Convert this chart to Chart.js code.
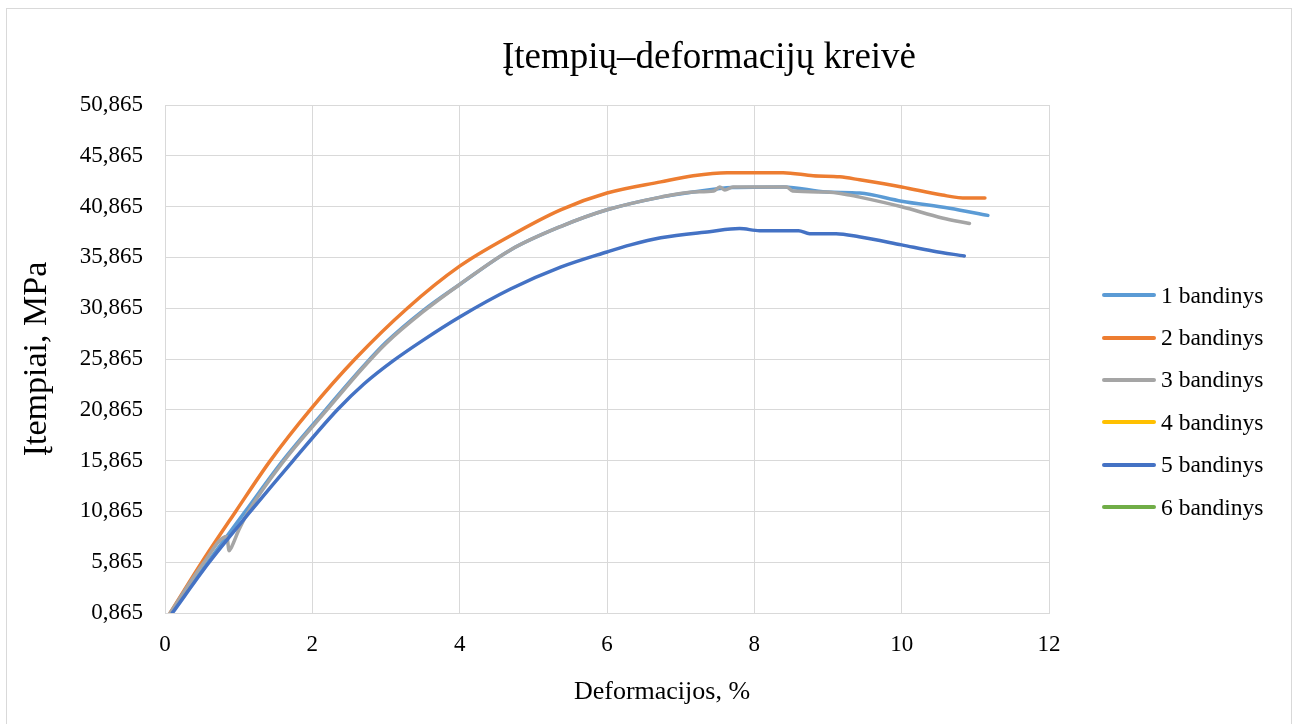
<!DOCTYPE html>
<html>
<head>
<meta charset="utf-8">
<script src="https://cdn.jsdelivr.net/npm/chart.js@4.4.1/dist/chart.umd.min.js"></script>
<style>
  body { margin: 0; background: #fff; font-family: 'Liberation Serif', 'Times New Roman', serif; color: #000; }
  #wrap { position: relative; width: 1299px; height: 724px; overflow: hidden; }
  #frame { position: absolute; left: 6px; top: 8px; width: 1284px; height: 740px; border: 1px solid #d9d9d9; }
  #chart { position: absolute; left: 0; top: 0; }
  #title { position: absolute; left: 409px; width: 600px; top: 34px; text-align: center; font-size: 37px; line-height: 44px; }
  #xtitle { position: absolute; left: 462px; width: 400px; top: 676px; text-align: center; font-size: 26px; line-height: 30px; }
  #legend { position: absolute; left: 1102px; top: 274px; margin: 0; padding: 0; list-style: none; }
  #legend li { height: 42.4px; display: flex; align-items: center; font-size: 23.5px; white-space: nowrap; }
  #legend .swatch { width: 54px; height: 4px; border-radius: 2px; margin-right: 5px; }
</style>
</head>
<body>
<div id="wrap">
  <div id="frame"></div>
  <canvas id="chart" width="1299" height="724"></canvas>
  <div id="title">Įtempių–deformacijų kreivė</div>
  <div id="xtitle">Deformacijos, %</div>
  <ul id="legend"></ul>
</div>
<script>
const seriesNames = ['1 bandinys', '2 bandinys', '3 bandinys', '4 bandinys', '5 bandinys', '6 bandinys'];
const seriesColors = ['#5b9bd5', '#ed7d31', '#a5a5a5', '#ffc000', '#4472c4', '#70ad47'];

const yTicks = [0.865, 5.865, 10.865, 15.865, 20.865, 25.865, 30.865, 35.865, 40.865, 45.865, 50.865];

// deformacija (%) / itempis (MPa) for each specimen
const strain1 = [0.08, 0.58, 1.09, 1.6, 2.18, 2.7, 3.0, 3.5, 4.0, 4.69, 5.37, 6.0, 6.73, 7.17, 7.7, 8.4, 8.98, 9.43, 10.0, 10.65, 11.17];
const stress1 = [0.865, 5.865, 10.865, 15.865, 20.865, 25.2, 27.5, 30.6, 33.2, 36.6, 38.9, 40.55, 41.8, 42.3, 42.75, 42.8, 42.3, 42.2, 41.4, 40.7, 40.0];

const strain2 = [0.07, 0.5, 0.96, 1.43, 1.97, 2.58, 3.29, 4.0, 4.69, 5.37, 6.0, 6.73, 7.17, 7.63, 8.39, 8.8, 9.16, 9.43, 10.0, 10.55, 10.88, 11.13];
const stress2 = [0.865, 5.865, 10.865, 15.865, 20.865, 25.865, 30.865, 35.0, 38.0, 40.55, 42.2, 43.3, 43.9, 44.2, 44.2, 43.9, 43.8, 43.5, 42.8, 42.0, 41.7, 41.7];

const strain3 = [0.07, 0.53, 0.84, 0.87, 0.9, 1.0, 1.12, 1.6, 2.18, 2.7, 3.0, 3.5, 4.0, 4.69, 5.37, 6.0, 6.73, 7.17, 7.45, 7.53, 7.6, 7.71, 8.44, 8.52, 8.98, 9.29, 9.43, 10.0, 10.55, 10.92];
const stress3 = [0.865, 5.865, 8.4, 7.0, 7.3, 9.0, 10.7, 15.7, 20.7, 25.1, 27.4, 30.5, 33.2, 36.6, 38.9, 40.55, 41.8, 42.3, 42.4, 42.8, 42.5, 42.8, 42.8, 42.4, 42.3, 42.0, 41.8, 40.85, 39.75, 39.2];

const strain4 = [];
const stress4 = [];

const strain5 = [0.1, 0.6, 1.16, 1.74, 2.34, 2.7, 3.1, 3.5, 4.0, 4.69, 5.37, 6.0, 6.32, 6.73, 7.39, 7.8, 8.07, 8.6, 8.75, 9.11, 9.42, 10.0, 10.42, 10.85];
const stress5 = [0.865, 5.865, 10.865, 15.865, 20.865, 23.4, 25.7, 27.7, 30.0, 32.75, 34.9, 36.4, 37.1, 37.8, 38.4, 38.7, 38.5, 38.5, 38.2, 38.2, 37.9, 37.1, 36.5, 36.0];

const strain6 = [];
const stress6 = [];

const strains = [strain1, strain2, strain3, strain4, strain5, strain6];
const stresses = [stress1, stress2, stress3, stress4, stress5, stress6];

const serif = 'Liberation Serif';

const datasets = seriesNames.map((name, i) => ({
  label: name,
  data: strains[i].map((x, j) => ({ x: x, y: stresses[i][j] })),
  borderColor: seriesColors[i],
  backgroundColor: seriesColors[i],
  showLine: true,
  order: seriesNames.length - i // later series on top, like Excel
}));

new Chart(document.getElementById('chart'), {
  type: 'scatter',
  data: { datasets: datasets },
  options: {
    responsive: false,
    animation: false,
    devicePixelRatio: 1,
    layout: { padding: { top: 105, right: 250, bottom: 16, left: 0 } },
    plugins: {
      legend: { display: false },
      title: { display: false },
      tooltip: { enabled: false }
    },
    elements: {
      point: { radius: 0, hoverRadius: 0 },
      line: { borderWidth: 3.5, cubicInterpolationMode: 'monotone', borderCapStyle: 'round', borderJoinStyle: 'round' }
    },
    scales: {
      x: {
        type: 'linear',
        min: 0,
        max: 12,
        ticks: { stepSize: 2, padding: 18, color: '#000', font: { family: serif, size: 23 } },
        grid: { color: '#d9d9d9', drawTicks: false },
        border: { color: '#d9d9d9' },
        afterFit: function (scale) { scale.height = 724 - 16 - 613; }
      },
      y: {
        type: 'linear',
        min: 0.865,
        max: 50.865,
        afterBuildTicks: function (scale) { scale.ticks = yTicks.map(v => ({ value: v })); },
        ticks: {
          padding: 22,
          color: '#000',
          font: { family: serif, size: 23 },
          callback: v => v.toFixed(3).replace('.', ',')
        },
        grid: { color: '#d9d9d9', drawTicks: false },
        border: { color: '#d9d9d9' },
        title: { display: true, text: 'Įtempiai, MPa', color: '#000', font: { family: serif, size: 34 }, padding: { top: 17, bottom: 0 } },
        afterFit: function (scale) { scale.width = 165; }
      }
    }
  }
});

const legend = document.getElementById('legend');
seriesNames.forEach((name, i) => {
  const li = document.createElement('li');
  const sw = document.createElement('span');
  sw.className = 'swatch';
  sw.style.background = seriesColors[i];
  li.appendChild(sw);
  li.appendChild(document.createTextNode(name));
  legend.appendChild(li);
});
</script>
</body>
</html>
